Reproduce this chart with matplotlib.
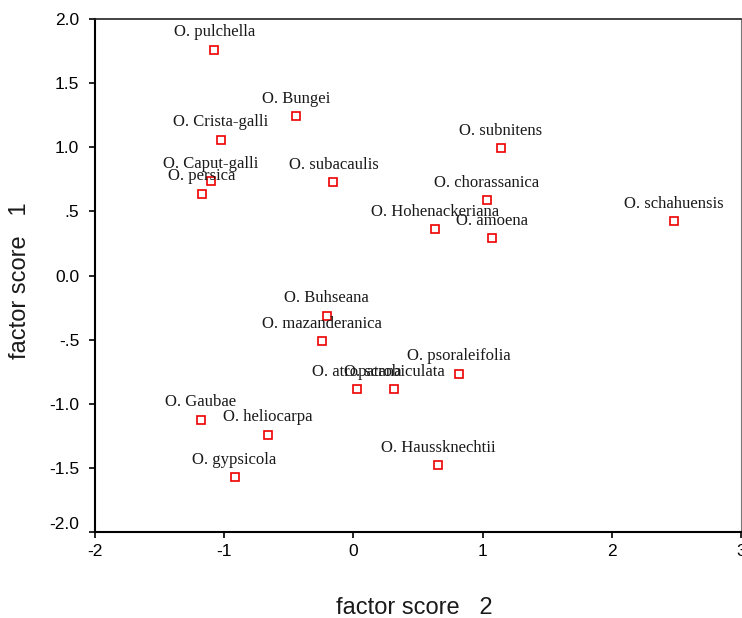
import matplotlib
matplotlib.use('Agg')
import matplotlib.pyplot as plt
import matplotlib.transforms as mtransforms

# species names and their factor scores (factor 2 on x, factor 1 on y)
names = ['O. pulchella', 'O. Bungei', 'O. Crista-galli', 'O. Caput-galli', 'O. persica',
         'O. subacaulis', 'O. subnitens', 'O. chorassanica', 'O. Hohenackeriana', 'O. amoena',
         'O. schahuensis', 'O. Buhseana', 'O. mazanderanica', 'O. psoraleifolia',
         'O. atropatana', 'O. scrobiculata', 'O. Gaubae', 'O. heliocarpa', 'O. gypsicola',
         'O. Haussknechtii']
score2 = [-1.075, -0.439, -1.025, -1.103, -1.170,
          -0.153, 1.139, 1.033, 0.632, 1.072,
          2.477, -0.205, -0.243, 0.815,
          0.029, 0.318, -1.180, -0.660, -0.917,
          0.655]
score1 = [1.763, 1.245, 1.060, 0.735, 0.639,
          0.728, 0.995, 0.587, 0.361, 0.293,
          0.425, -0.314, -0.514, -0.767,
          -0.886, -0.886, -1.126, -1.243, -1.575,
          -1.482]

yticks = [2.0, 1.5, 1.0, 0.5, 0.0, -0.5, -1.0, -1.5, -2.0]
ytick_labels = ['2.0', '1.5', '1.0', '.5', '0.0', '-.5', '-1.0', '-1.5', '-2.0']
xticks = [-2, -1, 0, 1, 2, 3]
xtick_labels = ['-2', '-1', '0', '1', '2', '3']

W, H = 742, 618
fig = plt.figure(figsize=(W / 100, H / 100), dpi=100)
ax = fig.add_axes([94.5 / W, 1 - 531.7 / H, (741.3 - 94.5) / W, (531.7 - 19.3) / H])
ax.set_xlim(-2, 3)
ax.set_ylim(-2, 2)

ax.plot(score2, score1, linestyle='none', marker='s', markersize=5.2,
        markerfacecolor='white', markeredgecolor='#ee0000', markeredgewidth=1.2,
        clip_on=False)

for n, x, y in zip(names, score2, score1):
    ax.annotate(n, (x, y), xytext=(0, 12.5), textcoords='offset points',
                ha='center', va='center', fontsize=12, family='Liberation Serif',
                color='#1a1a1a')

ax.set_yticks(yticks)
ax.set_yticklabels(ytick_labels)
ax.set_xticks(xticks)
ax.set_xticklabels(xtick_labels)
ax.tick_params(axis='y', direction='out', length=4, width=1.2, pad=7,
               labelsize=12.5, labelfontfamily='Liberation Sans')
ax.tick_params(axis='x', direction='out', length=4, width=1.2, pad=5,
               labelsize=12.5, labelfontfamily='Liberation Sans')

# the -2.0 label sits a bit above its tick in the original
lab = ax.get_yticklabels()[-1]
lab.set_transform(lab.get_transform() + mtransforms.ScaledTranslation(0, 6 / 72, fig.dpi_scale_trans))

for s in ['left', 'bottom']:
    ax.spines[s].set_linewidth(1.5)
    ax.spines[s].set_color('black')
ax.spines['top'].set_linewidth(1.2)
ax.spines['top'].set_color('#222222')
ax.spines['right'].set_linewidth(0.8)
ax.spines['right'].set_color('#777777')

fig.text(414 / W, 1 - 608 / H, 'factor score   2', ha='center', va='center',
         fontsize=17, family='Liberation Sans', color='#1a1a1a')
fig.text(20 / W, 1 - 281 / H, 'factor score   1', ha='center', va='center',
         rotation=90, fontsize=17, family='Liberation Sans', color='#1a1a1a')

fig.savefig('out.png', dpi=100)
